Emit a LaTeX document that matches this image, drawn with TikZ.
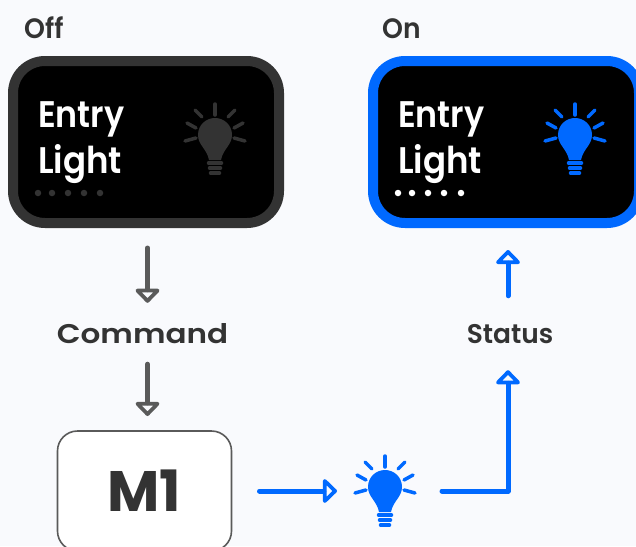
\documentclass[tikz,border=0pt]{standalone}
\usepackage{fontspec}
\usetikzlibrary{arrows.meta}
\newfontfamily\popm{Poppins SemiBold}
\newfontfamily\popb{Poppins}
\definecolor{bg}{HTML}{F9FAFD}
\definecolor{ink}{HTML}{333333}
\definecolor{blu}{HTML}{0069FF}
\definecolor{gry}{HTML}{5A5A5A}
\tikzset{
  x=1pt,y=-1pt,
  panel/.style={draw=#1,fill=black,line width=10pt,rounded corners=32pt,minimum width=266pt,minimum height=162pt,inner sep=0pt,outer sep=0pt},
  head/.style={font=\popm\fontsize{28}{28}\selectfont,text=ink,anchor=base west,inner sep=0pt},
  lab/.style={font=\popm\fontsize{37}{37}\selectfont,text=white,anchor=base west,inner sep=0pt},
  flow/.style={font=\popm\fontsize{27}{27}\selectfont,text=ink,inner sep=0pt,minimum height=30pt},
  arr/.style={draw=#1,line width=5pt,line cap=round,line join=round,-{Triangle[open,length=15pt,width=28pt,line width=5pt,round]}},
  dotm/.style={circle,fill=#1,minimum size=6.5pt,inner sep=0pt},
  bulbpic/.pic={
    \begin{scope}[line width=3.5pt,line cap=round,draw=#1]
      \fill[#1] (-6,25) .. controls (-8,14) and (-17,10) .. (-17,0) .. controls (-17,-10) and (-9,-17) .. (0,-17) .. controls (9,-17) and (17,-10) .. (17,0) .. controls (17,10) and (8,14) .. (6,25) -- cycle;
      \draw (0,-31) -- (0,-20);
      \draw (-20,-25) -- (-13,-18);
      \draw (20,-25) -- (13,-18);
      \draw (-28,-12) -- (-19,-7);
      \draw (28,-12) -- (19,-7);
      \draw (-30,6) -- (-19,3);
      \draw (30,6) -- (19,3);
      \draw (-6.5,28) -- (6.5,28);
      \draw (-5.5,33) -- (5.5,33);
      \draw (-4.5,38) -- (4.5,38);
    \end{scope}
  }
}
\begin{document}
\begin{tikzpicture}
\useasboundingbox (0,0) rectangle (636,546);
\clip (0,0) rectangle (636,546);
\fill[bg] (0,0) rectangle (636,546);
\node[head] (offt) at (24,38) {\scalebox{.95}[1]{Off}};
\node[head] (ont) at (382,38) {\scalebox{.95}[1]{On}};
\node[panel=ink] (off) at (146,142) {};
\node[panel=blu] (on) at (506,142) {};
\node[lab] (e1) at (38,127) {\scalebox{.9}[1]{Entry}};
\node[lab] (l1) at (38,173) {\scalebox{.92}[1]{Light}};
\node[lab] (e2) at (398,127) {\scalebox{.9}[1]{Entry}};
\node[lab] (l2) at (398,173) {\scalebox{.92}[1]{Light}};
\foreach \x [count=\i] in {38,52,68,84,100} \node[dotm=ink] (da\i) at (\x,193) {};
\foreach \x [count=\i] in {398,412,428,444,461} \node[dotm=white] (db\i) at (\x,193) {};
\pic at (215,135) {bulbpic=ink};
\pic at (575,135) {bulbpic=blu};
\node[flow] (cmd) at (142.5,334) {\scalebox{1.15}[1]{Command}};
\node[flow] (st) at (510,334) {\scalebox{.98}[1]{Status}};
\node[draw=gry,fill=white,line width=1.6pt,rounded corners=20pt,minimum width=174pt,minimum height=120pt,inner sep=0pt,outer sep=0pt,text=ink,font=\popb\bfseries\fontsize{57}{57}\selectfont] (m1) at (144.5,491) {M1};
\node[minimum width=60pt,minimum height=60pt,inner sep=0pt,outer sep=0pt] (lamp) at (385,487) {};
\pic at (lamp) {bulbpic=blu};
\coordinate (xl) at (147.5,0);
\coordinate (xr) at (508,0);
\draw[arr=gry,shorten <=25pt,shorten >=16pt] (off.south -| xl) -- (cmd.north -| xl);
\draw[arr=gry,shorten <=15pt,shorten >=15pt] (cmd.south -| xl) -- (m1.north -| xl);
\draw[arr=blu,shorten <=28pt,shorten >=18pt] (m1.east) -- (lamp.west |- m1.east);
\draw[arr=blu,shorten <=27pt,shorten >=21pt] (lamp.east |- m1.east) -| (st.south -| xr);
\draw[arr=blu,shorten <=23pt,shorten >=27pt] (st.north -| xr) -- (on.south -| xr);
\end{tikzpicture}
\end{document}
